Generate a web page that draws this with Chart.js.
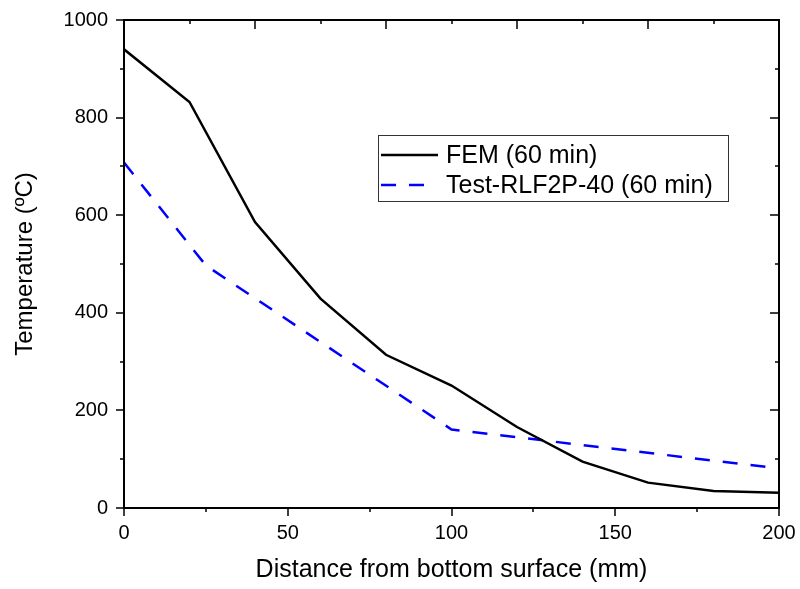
<!DOCTYPE html>
<html>
<head>
<meta charset="utf-8">
<script src="https://cdn.jsdelivr.net/npm/chart.js@4/dist/chart.umd.min.js"></script>
<style>
html,body{margin:0;padding:0;background:#fff;}
#wrap{width:800px;height:589px;}
</style>
</head>
<body>
<div id="wrap"><canvas id="c" width="800" height="589"></canvas></div>
<script>
// Data
const femX = [0, 20, 40, 60, 80, 100, 120, 140, 160, 180, 200];
const femY = [940, 832, 586, 429, 314, 251, 166, 95, 52, 35, 31];
const testX = [0, 25, 100, 200];
const testY = [708, 497, 161, 81];
const xTickValues = [0, 50, 100, 150, 200];
const yTickValues = [0, 200, 400, 600, 800, 1000];
const seriesLabels = ['FEM (60 min)', 'Test-RLF2P-40 (60 min)'];
const xTitle = 'Distance from bottom surface (mm)';
const yTitle = 'Temperature (\u00BAC)';

const FONT = "'Liberation Sans', Arial, sans-serif";

const tickPlugin = {
  id: 'frameTicks',
  afterDatasetsDraw(chart) {
    const ctx = chart.ctx;
    const xs = chart.scales.x, ys = chart.scales.y;
    const a = chart.chartArea;
    ctx.save();
    ctx.strokeStyle = '#000';
    ctx.lineWidth = 1.5;
    ctx.beginPath();
    for (let v = 0; v <= 200; v += 25) {
      const px = Math.round(xs.getPixelForValue(v));
      const len = (v % 50 === 0) ? 8 : 4;
      ctx.moveTo(px, a.bottom); ctx.lineTo(px, a.bottom + len);
    }
    for (let v = 0; v <= 200; v += 20) {
      const px = Math.round(xs.getPixelForValue(v));
      const len = (v % 40 === 0) ? 9 : 4;
      ctx.moveTo(px, a.top); ctx.lineTo(px, a.top + len);
    }
    for (let v = 0; v <= 1000; v += 100) {
      const py = Math.round(ys.getPixelForValue(v));
      const len = (v % 200 === 0) ? 8 : 4;
      ctx.moveTo(a.left, py); ctx.lineTo(a.left - len, py);
    }
    for (let v = 0; v <= 1000; v += 100) {
      const py = Math.round(ys.getPixelForValue(v));
      const len = (v % 200 === 0) ? 9 : 4;
      ctx.moveTo(a.right, py); ctx.lineTo(a.right - len, py);
    }
    ctx.stroke();
    ctx.lineWidth = 2;
    ctx.strokeRect(a.left, a.top, a.right - a.left, a.bottom - a.top);
    ctx.restore();
  }
};

const legendPlugin = {
  id: 'boxLegend',
  afterDraw(chart) {
    const ctx = chart.ctx;
    const bx = 378, by = 135, bw = 350, bh = 66;
    ctx.save();
    ctx.fillStyle = '#fff';
    ctx.fillRect(bx, by, bw, bh);
    ctx.strokeStyle = '#333';
    ctx.lineWidth = 1;
    ctx.strokeRect(bx + 0.5, by + 0.5, bw, bh);
    const rows = [155, 185];
    chart.data.datasets.forEach((ds, i) => {
      const y = rows[i];
      ctx.beginPath();
      ctx.strokeStyle = ds.borderColor;
      ctx.lineWidth = ds.borderWidth;
      ctx.setLineDash(ds.borderDash || []);
      ctx.moveTo(381, y); ctx.lineTo(ds.borderDash ? 436 : 438, y);
      ctx.stroke();
      ctx.setLineDash([]);
      ctx.fillStyle = '#000';
      ctx.font = '25px ' + FONT;
      ctx.textBaseline = 'middle';
      ctx.textAlign = 'left';
      ctx.fillText(ds.label, 446, y + 1);
    });
    ctx.restore();
  }
};

const hiddenGrid = (len) => ({ display: true, drawOnChartArea: false, drawTicks: true, tickLength: len, color: 'rgba(0,0,0,0)' });

new Chart(document.getElementById('c'), {
  type: 'line',
  data: {
    datasets: [
      {
        label: seriesLabels[0],
        data: femX.map((x, i) => ({x: x, y: femY[i]})),
        borderColor: '#000000',
        borderWidth: 2.5,
        pointRadius: 0,
        tension: 0,
        fill: false
      },
      {
        label: seriesLabels[1],
        data: testX.map((x, i) => ({x: x, y: testY[i]})),
        borderColor: '#0000FF',
        borderWidth: 2.5,
        borderDash: [15, 13],
        pointRadius: 0,
        tension: 0,
        fill: false
      }
    ]
  },
  options: {
    responsive: false,
    animation: false,
    devicePixelRatio: 1,
    layout: { padding: { top: 20, right: 21, left: 0, bottom: 0 } },
    plugins: { legend: { display: false }, tooltip: { enabled: false } },
    scales: {
      x: {
        type: 'linear',
        min: 0, max: 200,
        afterBuildTicks(scale) { scale.ticks = xTickValues.map(v => ({value: v})); },
        afterFit(scale) { scale.height = 81; },
        ticks: { color: '#000', font: { family: FONT, size: 20 }, padding: 0, maxRotation: 0, callback: v => String(v) },
        grid: hiddenGrid(13),
        border: { display: false },
        title: { display: true, text: xTitle, color: '#000', font: { family: FONT, size: 25 }, padding: { top: 0, bottom: 4 } }
      },
      y: {
        type: 'linear',
        min: 0, max: 1000,
        afterBuildTicks(scale) { scale.ticks = yTickValues.map(v => ({value: v})); },
        afterFit(scale) { scale.width = 124; },
        ticks: { color: '#000', font: { family: FONT, size: 20 }, padding: 0, callback: v => String(v) },
        grid: hiddenGrid(16),
        border: { display: false },
        title: { display: true, text: yTitle, color: '#000', font: { family: FONT, size: 24 }, padding: { top: 11, bottom: 0 } }
      }
    }
  },
  plugins: [tickPlugin, legendPlugin]
});
</script>
</body>
</html>
